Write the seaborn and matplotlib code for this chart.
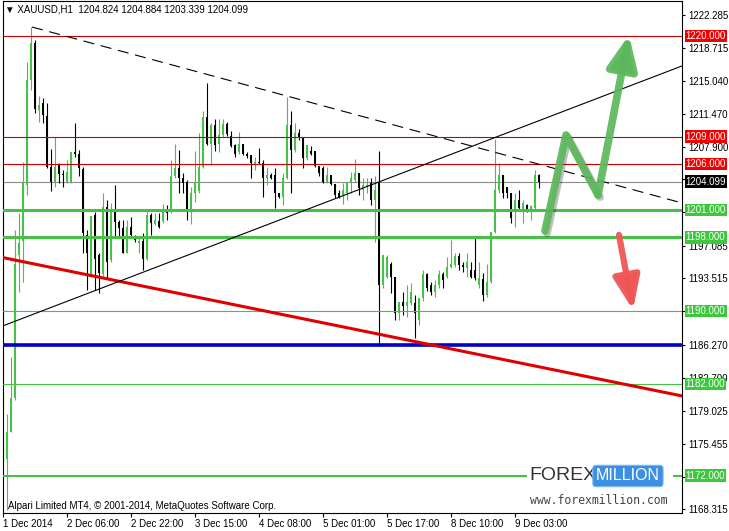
import numpy as np
import pandas as pd
import matplotlib
matplotlib.use("Agg")
import matplotlib.pyplot as plt
import matplotlib.patheffects as pe
from matplotlib.patches import Rectangle
import seaborn as sns

# H1 candles, 1 Dec 2014 -> 9 Dec 2014
opens = [1173.85, 1173.85, 1176.75, 1180.45, 1196.05, 1197.65, 1203.75, 1215.2, 1219.25, 1211.95,
         1212.65, 1211.25, 1205.65, 1204.05, 1205.85, 1204.95, 1204.05, 1204.05, 1207.35, 1207.15,
         1205.45, 1198.3, 1193.95, 1200.5, 1196.05, 1193.95, 1201.3, 1195.55, 1200.9, 1199.7,
         1199.0, 1196.35, 1199.1, 1198.0, 1197.35, 1197.65, 1195.65, 1200.4, 1199.5, 1199.8,
         1199.8, 1201.0, 1200.8, 1204.65, 1205.55, 1204.45, 1204.05, 1201.1, 1202.9, 1203.05,
         1205.65, 1211.15, 1208.25, 1210.25, 1208.15, 1209.15, 1210.35, 1209.05, 1208.05, 1207.35,
         1208.15, 1207.15, 1206.95, 1206.05, 1206.25, 1206.15, 1204.45, 1204.85, 1204.85, 1202.85,
         1202.4, 1204.45, 1210.25, 1207.55, 1209.35, 1208.95, 1206.65, 1207.45, 1207.45, 1205.75,
         1205.55, 1204.05, 1204.85, 1203.85, 1202.85, 1202.6, 1202.9, 1204.05, 1204.25, 1205.05,
         1203.15, 1203.55, 1203.95, 1202.1, 1203.95, 1192.8, 1193.65, 1195.15, 1193.65, 1189.7,
         1190.9, 1190.5, 1190.8, 1190.8, 1189.0, 1191.4, 1193.95, 1192.8, 1192.0, 1192.8,
         1193.95, 1193.65, 1194.75, 1194.95, 1195.95, 1194.95, 1194.65, 1194.45, 1194.45, 1192.8,
         1193.45, 1191.7, 1193.15, 1198.6, 1203.15, 1204.85, 1203.45, 1202.9, 1201.0, 1202.1,
         1201.0, 1201.5, 1201.0, 1201.2, 1204.824]
highs = [1175.55, 1178.75, 1184.95, 1198.8, 1200.7, 1206.25, 1217.1, 1220.95, 1219.55, 1213.4,
         1213.2, 1212.65, 1207.65, 1208.95, 1206.15, 1205.35, 1206.45, 1207.35, 1210.45, 1207.55,
         1205.65, 1198.8, 1200.3, 1200.8, 1196.25, 1202.9, 1202.1, 1201.8, 1203.75, 1199.9,
         1199.9, 1199.9, 1200.2, 1198.3, 1198.0, 1198.5, 1201.0, 1200.7, 1200.7, 1200.7,
         1201.7, 1201.5, 1206.45, 1208.25, 1207.55, 1205.05, 1204.25, 1203.45, 1207.45, 1209.35,
         1211.85, 1214.9, 1210.45, 1210.95, 1210.95, 1210.95, 1210.55, 1209.65, 1208.25, 1209.55,
         1208.25, 1207.35, 1207.05, 1206.75, 1207.75, 1206.45, 1205.65, 1205.05, 1205.55, 1202.9,
         1205.05, 1213.3, 1211.85, 1210.45, 1209.85, 1208.95, 1208.05, 1207.95, 1207.45, 1205.75,
         1205.75, 1205.65, 1204.85, 1203.85, 1203.15, 1203.95, 1204.05, 1205.15, 1206.55, 1205.05,
         1204.45, 1204.45, 1204.45, 1204.75, 1207.45, 1196.05, 1196.05, 1195.35, 1193.65, 1191.0,
         1192.0, 1192.8, 1193.05, 1191.7, 1191.4, 1194.45, 1194.15, 1193.15, 1193.35, 1194.45,
         1194.25, 1195.85, 1197.75, 1196.35, 1196.25, 1195.35, 1196.25, 1195.35, 1197.95, 1195.35,
         1194.15, 1195.15, 1198.6, 1208.75, 1206.15, 1204.85, 1203.45, 1202.9, 1202.9, 1203.15,
         1202.1, 1201.7, 1201.5, 1205.35, 1204.884]
lows = [1173.45, 1168.25, 1176.75, 1180.25, 1192.0, 1193.15, 1202.6, 1214.1, 1211.55, 1210.55,
        1210.45, 1205.55, 1203.05, 1203.55, 1203.95, 1203.55, 1203.95, 1203.95, 1206.75, 1204.65,
        1196.25, 1192.3, 1193.65, 1192.3, 1191.9, 1193.65, 1193.55, 1195.35, 1198.0, 1198.1,
        1196.25, 1196.25, 1198.0, 1197.55, 1196.25, 1194.45, 1195.55, 1198.3, 1199.4, 1199.0,
        1199.6, 1199.9, 1200.7, 1204.45, 1202.8, 1202.9, 1199.9, 1199.5, 1201.9, 1202.9,
        1205.55, 1208.05, 1205.85, 1207.45, 1207.35, 1208.95, 1209.05, 1207.85, 1206.75, 1207.15,
        1206.95, 1206.65, 1204.45, 1205.35, 1206.05, 1202.4, 1203.75, 1204.35, 1201.2, 1202.3,
        1201.5, 1204.35, 1202.85, 1207.35, 1208.65, 1205.55, 1206.45, 1206.95, 1205.65, 1204.75,
        1203.95, 1203.95, 1203.75, 1202.3, 1202.3, 1201.7, 1202.1, 1202.9, 1204.05, 1202.6,
        1202.1, 1202.9, 1201.5, 1197.45, 1186.15, 1192.5, 1193.55, 1191.9, 1189.0, 1189.0,
        1189.5, 1189.3, 1190.6, 1187.0, 1188.4, 1191.1, 1192.2, 1191.7, 1191.5, 1192.5,
        1192.5, 1193.55, 1194.65, 1194.75, 1194.45, 1194.25, 1193.65, 1193.55, 1193.35, 1192.5,
        1191.1, 1191.5, 1193.05, 1198.5, 1202.9, 1202.3, 1202.3, 1199.6, 1199.1, 1201.0,
        1199.6, 1200.8, 1199.9, 1201.0, 1203.339]
closes = [1174.75, 1176.75, 1180.45, 1195.15, 1197.35, 1203.95, 1215.2, 1219.25, 1212.05, 1212.45,
          1211.35, 1205.65, 1204.05, 1205.65, 1204.95, 1204.85, 1205.15, 1207.35, 1207.15, 1205.55,
          1198.5, 1196.25, 1200.3, 1195.65, 1194.15, 1201.3, 1195.35, 1200.8, 1199.7, 1199.0,
          1196.35, 1199.1, 1198.3, 1197.75, 1197.65, 1195.65, 1200.4, 1199.6, 1199.9, 1199.1,
          1201.0, 1200.7, 1204.65, 1205.55, 1204.45, 1203.95, 1201.1, 1202.9, 1203.95, 1205.65,
          1211.15, 1208.25, 1210.25, 1208.05, 1209.15, 1210.35, 1209.25, 1207.95, 1207.15, 1208.25,
          1207.15, 1206.85, 1206.15, 1206.25, 1206.15, 1204.45, 1204.85, 1204.45, 1202.85, 1202.4,
          1204.45, 1210.25, 1207.55, 1209.35, 1208.85, 1206.65, 1208.05, 1207.15, 1205.75, 1205.05,
          1204.05, 1204.85, 1203.85, 1202.6, 1202.4, 1203.15, 1204.05, 1204.45, 1205.05, 1203.35,
          1203.75, 1203.75, 1202.1, 1203.15, 1192.8, 1196.05, 1195.85, 1193.65, 1189.7, 1190.9,
          1190.5, 1191.0, 1192.0, 1189.8, 1191.4, 1193.95, 1192.5, 1192.0, 1192.8, 1193.95,
          1193.35, 1194.75, 1195.15, 1195.95, 1194.95, 1194.75, 1195.35, 1193.65, 1193.55, 1193.55,
          1191.7, 1193.15, 1198.6, 1203.15, 1204.85, 1202.9, 1202.85, 1200.1, 1202.1, 1201.2,
          1201.8, 1201.0, 1201.4, 1204.85, 1204.099]

date_ticks = [0, 16, 32, 48, 64, 80, 96, 112, 128]
date_labels = ["1 Dec 2014", "2 Dec 06:00", "2 Dec 22:00", "3 Dec 15:00", "4 Dec 08:00",
               "5 Dec 01:00", "5 Dec 17:00", "8 Dec 10:00", "9 Dec 03:00"]
price_ticks = [1222.285, 1218.715, 1215.040, 1211.470, 1207.900, 1204.330, 1200.760, 1197.085,
               1193.515, 1189.945, 1186.270, 1182.700, 1179.025, 1175.455, 1171.885, 1168.315]
# scale labels that sit under a level box on the chart
covered_ticks = [1204.330, 1200.760, 1189.945, 1171.885]

red_levels = [1220.0, 1209.0, 1206.0]
green_levels = [1201.0, 1198.0, 1190.0, 1182.0, 1172.0]
green_widths = [2.2, 2.2, 0.8, 0.8, 1.5]
last_price = 1204.099
blue_level = 1186.3

# trend lines (bar index, price)
red_trend_x, red_trend_y = [-0.75, 169.75], [1195.86, 1180.69]
up_trend_x, up_trend_y = [-0.75, 169.75], [1188.22, 1216.72]
down_trend_x, down_trend_y = [7.25, 169.75], [1220.97, 1201.76]
green_path_x, green_path_y = [135.5, 140.75, 148.75, 156.5], [1198.7, 1209.18, 1202.63, 1220.1]
red_path_x, red_path_y = [154.0, 157.5], [1198.27, 1190.08]

GREEN = "#46c346"
LINE_GREEN = "#48c048"

sns.set_style("white")
plt.rcParams["font.family"] = ["Liberation Sans", "DejaVu Sans"]

fig = plt.figure(figsize=(7.29, 5.31), dpi=100)
ax = fig.add_axes([2.5 / 729, 18 / 531, 679.5 / 729, 512 / 531])
ax.set_facecolor("white")

df = pd.DataFrame({"bar": np.arange(len(opens)), "open": opens, "high": highs,
                   "low": lows, "close": closes})
up = df["close"] >= df["open"]
colors = np.where(up, GREEN, "black")

# candles
ax.vlines(df["bar"], df["low"], df["high"], colors=colors, lw=0.8, zorder=2)
body_lo = np.minimum(df["open"], df["close"])
body_h = np.maximum((df["close"] - df["open"]).abs(), 0.1)
ax.bar(df["bar"], body_h, bottom=body_lo, width=0.72, color=colors, linewidth=0, zorder=2)

# horizontal levels
for lv in red_levels:
    ax.axhline(lv, color="#c80000", lw=0.8, zorder=3)
for lv, w in zip(green_levels, green_widths):
    ax.axhline(lv, color=LINE_GREEN, lw=w, zorder=3)
ax.axhline(last_price, color="#8c8c8c", lw=0.8, zorder=1)
ax.axhline(blue_level, color="#0000c8", lw=2.6, zorder=3)

# trend lines
sns.lineplot(x=red_trend_x, y=red_trend_y, ax=ax, color="#e00000", lw=2.2, zorder=3)
sns.lineplot(x=up_trend_x, y=up_trend_y, ax=ax, color="black", lw=0.8, zorder=3)
sns.lineplot(x=down_trend_x, y=down_trend_y, ax=ax, color="black", lw=0.8,
             linestyle=(0, (10, 6)), zorder=3)

# forecast arrows (with a soft drop shadow)
shadow = [pe.SimpleLineShadow(offset=(1.5, -1.5), alpha=0.25), pe.Normal()]
ax.plot(green_path_x[:3], green_path_y[:3], color="#5cb85c", lw=5.5, alpha=0.92,
        solid_joinstyle="round", solid_capstyle="round", zorder=4, path_effects=shadow)
ax.annotate("", xy=(green_path_x[3], green_path_y[3]), xytext=(green_path_x[2], green_path_y[2]),
            arrowprops=dict(arrowstyle="-|>,head_length=1.0,head_width=0.45", color="#5cb85c",
                            lw=5.5, alpha=0.92, mutation_scale=20, shrinkA=0, shrinkB=0,
                            capstyle="round",
                            path_effects=[pe.SimplePatchShadow(offset=(1.5, -1.5), alpha=0.25),
                                          pe.Normal()]), zorder=4)
ax.annotate("", xy=(red_path_x[1], red_path_y[1]), xytext=(red_path_x[0], red_path_y[0]),
            arrowprops=dict(arrowstyle="-|>,head_length=1.0,head_width=0.4", color="#f05656",
                            lw=4.5, alpha=0.95, mutation_scale=20, shrinkA=0, shrinkB=0,
                            capstyle="round",
                            path_effects=[pe.SimplePatchShadow(offset=(1.5, -1.5), alpha=0.25),
                                          pe.Normal()]), zorder=4)

ax.set_xlim(-0.125, 169.75)
ax.set_ylim(1167.91, 1223.81)

# axes / ticks
for s in ax.spines.values():
    s.set_visible(True)
    s.set_color("black")
    s.set_linewidth(0.8)
ax.yaxis.tick_right()
ax.set_yticks(price_ticks)
ax.set_yticklabels(["" if v in covered_ticks else f"{v:.3f}" for v in price_ticks])
ax.set_xticks(date_ticks)
ax.set_xticklabels(date_labels)
ax.tick_params(axis="y", left=False, right=True, labelleft=False, labelright=True,
               direction="out", length=2.5, width=0.8, pad=2, labelsize=7, colors="black")
ax.tick_params(axis="x", bottom=True, labelbottom=True, direction="out", length=3,
               width=0.8, pad=1.5, labelsize=7, colors="black")
for lbl in ax.get_xticklabels():
    lbl.set_horizontalalignment("left")
ax.set_xlabel("")
ax.set_ylabel("")
ax.grid(False)

# price label boxes on the scale
ytr = ax.get_yaxis_transform()
for lv in red_levels:
    ax.text(1.0055, lv, f"{lv:.3f}", transform=ytr, ha="left", va="center", fontsize=7,
            color="white", clip_on=False, zorder=6,
            bbox=dict(boxstyle="square,pad=0.12", fc="#f00000", ec="none"))
for lv in green_levels:
    ax.text(1.0055, lv, f"{lv:.3f}", transform=ytr, ha="left", va="center", fontsize=7,
            color="white", clip_on=False, zorder=6,
            bbox=dict(boxstyle="square,pad=0.12", fc="#3cc83c", ec="none"))
ax.text(1.0055, last_price, f"{last_price:.3f}", transform=ytr, ha="left", va="center",
        fontsize=7, color="white", clip_on=False, zorder=6,
        bbox=dict(boxstyle="square,pad=0.12", fc="black", ec="none"))

# header and footer texts
fig.text(5 / 729, 1 - 10 / 531, "\u25bc XAUUSD,H1  1204.824 1204.884 1203.339 1204.099",
         fontsize=7, va="center", ha="left", color="black")
fig.text(8 / 729, 1 - 506 / 531, "Alpari Limited MT4, \u00a9 2001-2014, MetaQuotes Software Corp.",
         fontsize=7, va="center", ha="left", color="black", zorder=7)

# watermark
ax.add_patch(Rectangle((527 / 729, 1 - 509 / 531), 146 / 729, 52 / 531, transform=fig.transFigure,
                       fc="white", ec="none", clip_on=False, zorder=5))
fig.text(529 / 729, 1 - 476 / 531, "FOREX", fontsize=14, va="center", ha="left",
         color="#333333", zorder=7)
fig.text(596 / 729, 1 - 476 / 531, "MILLION", fontsize=11.5, va="center", ha="left",
         color="white", zorder=7,
         bbox=dict(boxstyle="round,pad=0.2,rounding_size=0.2", fc="#3d8fe3", ec="#7fb8f0", lw=0.8))
fig.text(530 / 729, 1 - 501 / 531, "www.forexmillion.com", fontsize=8.3, va="center", ha="left",
         color="#444444", family="DejaVu Sans Mono", zorder=7)

fig.savefig("out.png", dpi=100)
